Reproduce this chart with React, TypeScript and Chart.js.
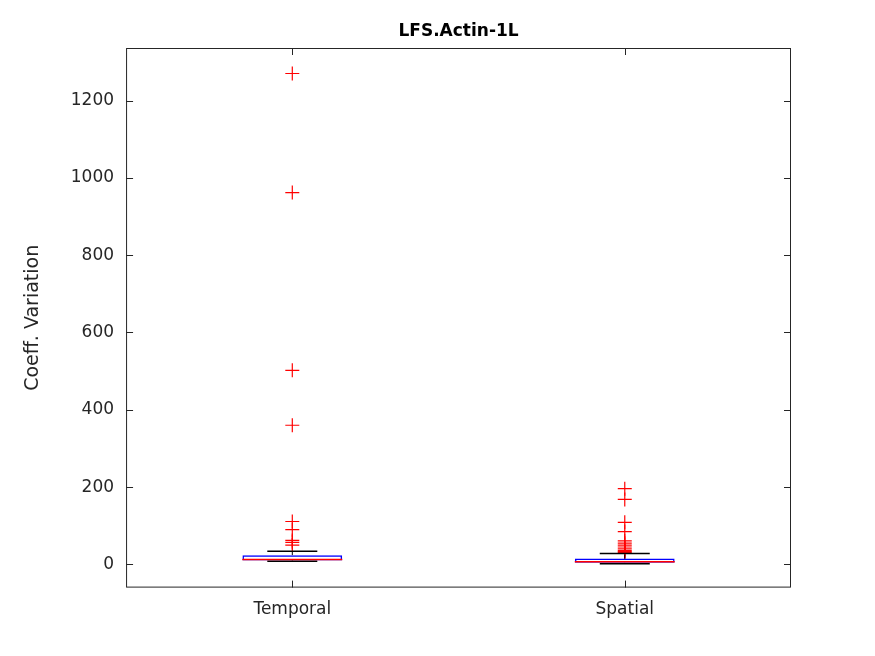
import React, { useEffect, useRef } from "react";
import { Chart, registerables } from "chart.js";
Chart.register(...registerables);

const categories = ["Temporal", "Spatial"];
const q1 = [10, 4];
const q3 = [24, 15];
const medians = [13, 7];
const whiskLow = [8, 2];
const whiskHigh = [34, 28];
const outliersTemporal = [1270, 962, 502, 360, 111, 90, 62, 57, 50];
const outliersSpatial = [196, 168, 109, 85, 61, 55, 50, 45, 40, 36, 33, 31];
const yTicks = [0, 200, 400, 600, 800, 1000, 1200];
const titleText = "LFS.Actin-1L";

const FONT = "'DejaVu Sans', sans-serif";

const boxPlugin = {
  id: "boxExtras",
  afterDatasetsDraw(chart: any) {
    const { ctx, chartArea: a, scales } = chart;
    const x = scales.x, y = scales.y;
    ctx.save();
    categories.forEach((c, i) => {
      const cx = x.getPixelForValue(i);
      const half = 25;
      ctx.strokeStyle = "#000";
      ctx.lineWidth = 1;
      ctx.setLineDash([4, 3]);
      ctx.beginPath();
      ctx.moveTo(cx, y.getPixelForValue(q3[i]));
      ctx.lineTo(cx, y.getPixelForValue(whiskHigh[i]));
      ctx.moveTo(cx, y.getPixelForValue(q1[i]));
      ctx.lineTo(cx, y.getPixelForValue(whiskLow[i]));
      ctx.stroke();
      ctx.setLineDash([]);
      ctx.lineWidth = 1.5;
      ctx.beginPath();
      ctx.moveTo(cx - half, y.getPixelForValue(whiskHigh[i]));
      ctx.lineTo(cx + half, y.getPixelForValue(whiskHigh[i]));
      ctx.moveTo(cx - half, y.getPixelForValue(whiskLow[i]));
      ctx.lineTo(cx + half, y.getPixelForValue(whiskLow[i]));
      ctx.stroke();
      const bw = 50;
      ctx.strokeStyle = "red";
      ctx.beginPath();
      ctx.moveTo(cx - bw, y.getPixelForValue(medians[i]));
      ctx.lineTo(cx + bw, y.getPixelForValue(medians[i]));
      ctx.stroke();
    });
    ctx.strokeStyle = "#262626";
    ctx.lineWidth = 1;
    ctx.strokeRect(a.left + 0.5, a.top + 0.5, a.right - a.left - 1, a.bottom - a.top - 1);
    ctx.beginPath();
    yTicks.forEach((t) => {
      const py = Math.round(y.getPixelForValue(t)) + 0.5;
      ctx.moveTo(a.left, py); ctx.lineTo(a.left + 7, py);
      ctx.moveTo(a.right, py); ctx.lineTo(a.right - 7, py);
    });
    categories.forEach((c, i) => {
      const px = Math.round(x.getPixelForValue(i)) + 0.5;
      ctx.moveTo(px, a.bottom); ctx.lineTo(px, a.bottom - 7);
      ctx.moveTo(px, a.top); ctx.lineTo(px, a.top + 7);
    });
    ctx.stroke();
    ctx.fillStyle = "#000";
    ctx.font = `bold 17px ${FONT}`;
    ctx.textAlign = "center";
    ctx.textBaseline = "middle";
    ctx.fillText(titleText, (a.left + a.right) / 2, 32);
    ctx.restore();
  },
};

export default function App() {
  const ref = useRef<HTMLCanvasElement>(null);
  useEffect(() => {
    const outPts = [
      ...outliersTemporal.map((v) => ({ x: categories[0], y: v })),
      ...outliersSpatial.map((v) => ({ x: categories[1], y: v })),
    ];
    const chart = new Chart(ref.current!, {
      data: {
        labels: categories,
        datasets: [
          {
            type: "bar",
            data: categories.map((_, i) => [q1[i], q3[i]]) as any,
            backgroundColor: "rgba(255,255,255,0)",
            borderColor: "blue",
            borderWidth: 1.5,
            borderSkipped: false,
            barPercentage: 0.3,
            categoryPercentage: 1,
          },
          {
            type: "line",
            data: outPts as any,
            showLine: false,
            pointStyle: "cross",
            pointRadius: 7,
            pointBorderColor: "red",
            pointBorderWidth: 1.2,
            pointBackgroundColor: "red",
          },
        ],
      },
      options: {
        animation: false,
        responsive: false,
        devicePixelRatio: 1,
        layout: { padding: { top: 48, right: 84, bottom: 24, left: 18 } },
        plugins: {
          legend: { display: false },
          tooltip: { enabled: false },
          title: { display: false },
        },
        scales: {
          x: {
            type: "category",
            offset: true,
            grid: { display: false, drawTicks: false },
            border: { display: false },
            ticks: { color: "#262626", font: { family: FONT, size: 17 }, padding: 12 },
          },
          y: {
            min: -60,
            max: 1336,
            afterBuildTicks: (s: any) => { s.ticks = yTicks.map((v) => ({ value: v })); },
            grid: { display: false, drawTicks: false },
            border: { display: false },
            ticks: { color: "#262626", font: { family: FONT, size: 17 }, padding: 12, callback: (v: any) => String(v) },
            title: {
              display: true,
              text: "Coeff. Variation",
              color: "#262626",
              font: { family: FONT, size: 19 },
              padding: { bottom: 14 },
            },
          },
        },
      },
      plugins: [boxPlugin],
    });
    return () => chart.destroy();
  }, []);
  return (
    <div style={{ position: "fixed", left: 0, top: 0, width: 875, height: 656, background: "#fff" }}>
      <canvas ref={ref} width={875} height={656} />
    </div>
  );
}
